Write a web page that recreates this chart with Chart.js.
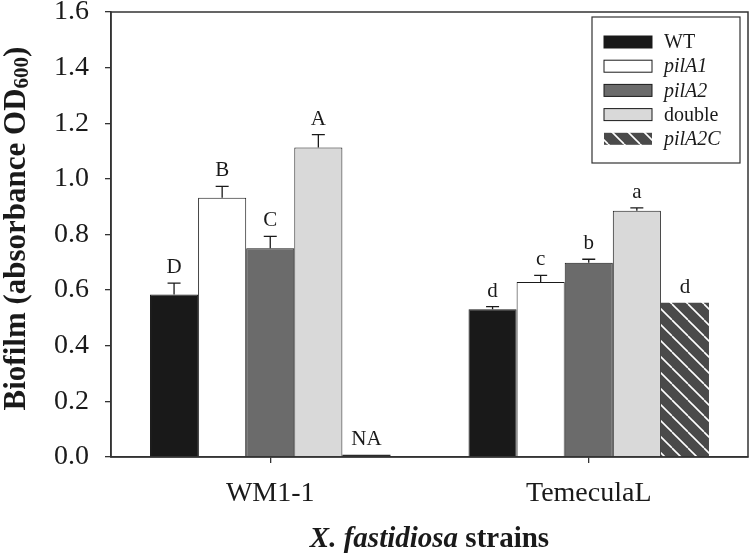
<!DOCTYPE html>
<html>
<head>
<meta charset="utf-8">
<script src="https://cdn.jsdelivr.net/npm/chart.js@4.4.1/dist/chart.umd.min.js"></script>
<style>
  html, body { margin: 0; padding: 0; background: #fff; }
  #wrap { width: 750px; height: 555px; }
</style>
</head>
<body>
<div id="wrap"><canvas id="biofilm" width="750" height="555"></canvas></div>
<script>
/* ── Data ── */
const strains = ['WM1-1', 'TemeculaL'];
const seriesNames = ['WT', 'pilA1', 'pilA2', 'double', 'pilA2C'];

const wtMean     = [0.584, 0.531];
const pilA1Mean  = [0.932, 0.629];
const pilA2Mean  = [0.751, 0.698];
const doubleMean = [1.113, 0.885];
const pilA2CMean = [0.008, 0.555];

// upper error bar (SE)
const wtErr     = [0.041, 0.010];
const pilA1Err  = [0.041, 0.024];
const pilA2Err  = [0.042, 0.013];
const doubleErr = [0.046, 0.011];
const pilA2CErr = [null, null];

// significance letters
const wtLetters     = ['D', 'd'];
const pilA1Letters  = ['B', 'c'];
const pilA2Letters  = ['C', 'b'];
const doubleLetters = ['A', 'a'];
const pilA2CLetters = ['NA', 'd'];

const yTicks = [0, 0.2, 0.4, 0.6, 0.8, 1.0, 1.2, 1.4, 1.6];

const SERIF = "'Liberation Serif', 'Times New Roman', serif";
const INK = '#1a1a1a';

/* ── Hatch pattern for pilA2C ── */
function hatch() {
  const c = document.createElement('canvas');
  c.width = 16; c.height = 16;
  const g = c.getContext('2d');
  g.fillStyle = '#4a4a4a';
  g.fillRect(0, 0, 16, 16);
  g.strokeStyle = '#ffffff';
  g.lineWidth = 1.6;
  for (let k = -1; k <= 1; k++) {
    g.beginPath();
    g.moveTo(k * 16, 0);
    g.lineTo(k * 16 + 16, 16);
    g.stroke();
  }
  return document.getElementById('biofilm').getContext('2d').createPattern(c, 'repeat');
}
const HATCH = hatch();

function ds(label, data, err, letters, fill, swatch, border) {
  return {
    label, data, err, letters, swatch,
    backgroundColor: fill,
    borderColor: INK,
    borderWidth: border,
    borderSkipped: 'start',
    categoryPercentage: 0.755,
    barPercentage: 1.0
  };
}

const datasets = [
  ds(seriesNames[0], wtMean, wtErr, wtLetters, '#191919', '#191919', 1),
  ds(seriesNames[1], pilA1Mean, pilA1Err, pilA1Letters, '#ffffff', '#ffffff', 1),
  ds(seriesNames[2], pilA2Mean, pilA2Err, pilA2Letters, '#6b6b6b', '#6b6b6b', 1),
  ds(seriesNames[3], doubleMean, doubleErr, doubleLetters, '#d9d9d9', '#d9d9d9', 1),
  // the near-zero NA bar shows as a thin dark strip
  ds(seriesNames[4], pilA2CMean, pilA2CErr, pilA2CLetters, ['#2a2a2a', HATCH], HATCH, 0)
];

/* ── Error bars + letters ── */
const errorBars = {
  id: 'errorBars',
  afterDatasetsDraw(chart) {
    const { ctx } = chart;
    const y = chart.scales.y;
    ctx.save();
    chart.data.datasets.forEach((d, i) => {
      const meta = chart.getDatasetMeta(i);
      meta.data.forEach((bar, j) => {
        let top = bar.y;
        const e = d.err[j];
        if (e != null) {
          top = y.getPixelForValue(d.data[j] + e);
          ctx.strokeStyle = INK;
          ctx.lineWidth = 1.3;
          ctx.beginPath();
          ctx.moveTo(bar.x, bar.y);
          ctx.lineTo(bar.x, top);
          ctx.moveTo(bar.x - 6.5, top);
          ctx.lineTo(bar.x + 6.5, top);
          ctx.stroke();
        }
        ctx.fillStyle = INK;
        ctx.font = `21px ${SERIF}`;
        ctx.textAlign = 'center';
        ctx.textBaseline = 'alphabetic';
        ctx.fillText(d.letters[j], bar.x, top - 10);
      });
    });
    ctx.restore();
  }
};

/* ── Frame, axis titles and legend ── */
const decorations = {
  id: 'decorations',
  afterDraw(chart) {
    const { ctx, chartArea: a } = chart;
    ctx.save();

    // plot frame
    ctx.strokeStyle = '#333';
    ctx.lineWidth = 1.5;
    ctx.strokeRect(a.left, a.top, a.right - a.left, a.bottom - a.top);

    // y title with subscript
    ctx.fillStyle = INK;
    ctx.textBaseline = 'middle';
    ctx.textAlign = 'left';
    const big = `bold 31px ${SERIF}`, small = `bold 21px ${SERIF}`;
    const p1 = 'Biofilm (absorbance OD', p2 = '600', p3 = ')';
    ctx.font = big;
    const w1 = ctx.measureText(p1).width, w3 = ctx.measureText(p3).width;
    ctx.font = small;
    const w2 = ctx.measureText(p2).width;
    const total = w1 + w2 + w3;
    ctx.translate(17, (a.top + a.bottom) / 2 - 6);
    ctx.rotate(-Math.PI / 2);
    let x = -total / 2;
    ctx.font = big;   ctx.fillText(p1, x, 0); x += w1;
    ctx.font = small; ctx.fillText(p2, x, 6); x += w2;
    ctx.font = big;   ctx.fillText(p3, x, 0);
    ctx.setTransform(1, 0, 0, 1, 0, 0);

    // x title: italic species + plain word
    const it = `italic bold 29px ${SERIF}`, bd = `bold 29px ${SERIF}`;
    const t1 = 'X. fastidiosa', t2 = ' strains';
    ctx.font = it; const tw1 = ctx.measureText(t1).width;
    ctx.font = bd; const tw2 = ctx.measureText(t2).width;
    let tx = (a.left + a.right) / 2 - (tw1 + tw2) / 2;
    ctx.textBaseline = 'middle';
    ctx.font = it; ctx.fillText(t1, tx, 540);
    ctx.font = bd; ctx.fillText(t2, tx + tw1, 540);

    // legend
    const lx = 592, ly = 17, lw = 148, lh = 146;
    ctx.fillStyle = '#fff';
    ctx.fillRect(lx, ly, lw, lh);
    ctx.strokeStyle = '#333';
    ctx.lineWidth = 1.2;
    ctx.strokeRect(lx, ly, lw, lh);
    chart.data.datasets.forEach((d, i) => {
      const cy = ly + 25 + i * 24.2;
      ctx.fillStyle = d.swatch;
      ctx.fillRect(lx + 12, cy - 6, 48, 12);
      if (d.borderWidth) {
        ctx.strokeStyle = INK;
        ctx.lineWidth = 1;
        ctx.strokeRect(lx + 12, cy - 6, 48, 12);
      }
      ctx.fillStyle = INK;
      ctx.font = (d.label.startsWith('pil') ? 'italic ' : '') + `20px ${SERIF}`;
      ctx.textBaseline = 'middle';
      ctx.fillText(d.label, lx + 72, cy + 1);
    });

    ctx.restore();
  }
};

new Chart(document.getElementById('biofilm'), {
  type: 'bar',
  data: { labels: strains, datasets },
  plugins: [errorBars, decorations],
  options: {
    responsive: false,
    animation: false,
    devicePixelRatio: 1,
    layout: { padding: { top: 12, right: 2, left: 0, bottom: 0 } },
    plugins: {
      legend: { display: false },
      tooltip: { enabled: false }
    },
    scales: {
      x: {
        offset: true,
        grid: { display: true, drawOnChartArea: false, offset: false, tickLength: 6, color: '#333', lineWidth: 1.3 },
        border: { color: '#333', width: 1.5 },
        ticks: { color: INK, font: { family: SERIF, size: 28 }, padding: 14 },
        afterFit: s => { s.height = 98; s.paddingLeft = 0; s.paddingRight = 0; }
      },
      y: {
        min: 0, max: 1.6,
        afterBuildTicks: s => { s.ticks = yTicks.map(v => ({ value: v })); },
        grid: { display: true, drawOnChartArea: false, tickLength: 6, color: '#333', lineWidth: 1.3 },
        border: { color: '#333', width: 1.5 },
        ticks: {
          color: INK, font: { family: SERIF, size: 28 }, padding: 16,
          callback: v => v.toFixed(1)
        },
        afterFit: s => { s.width = 111; s.paddingTop = 0; s.paddingBottom = 0; }
      }
    }
  }
});
</script>
</body>
</html>
